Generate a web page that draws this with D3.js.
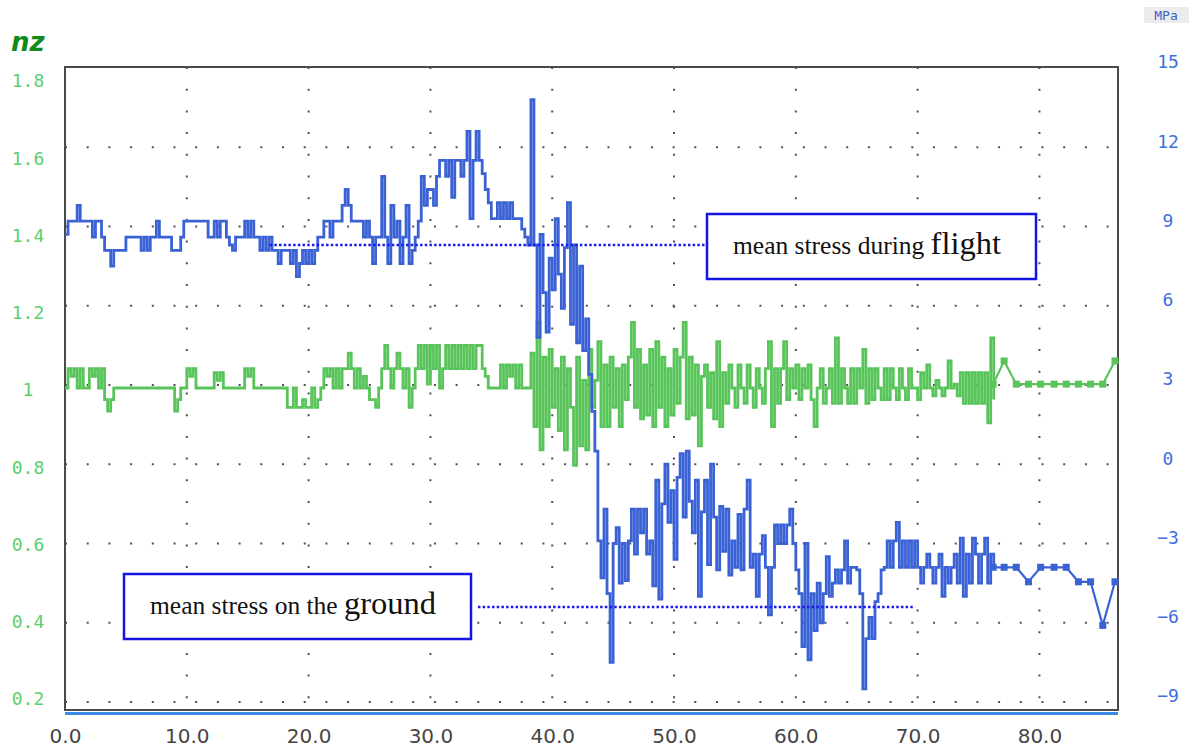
<!DOCTYPE html>
<html>
<head>
<meta charset="utf-8">
<script src="https://cdn.jsdelivr.net/npm/d3@7"></script>
<style>
  body { margin: 0; background: #fff; }
  svg { display: block; }
</style>
</head>
<body>
<svg id="chart" width="1195" height="749"></svg>
<script>
// sample step of the dense part (x units)
var dt = 0.25

// stress (MPa, right axis), one value per dt from x = 0
var stressDense = [
  8.7, 9.2, 9.2, 9.2, 9.8, 9.2, 9.2, 9.2, 9.2, 8.6,
  9.2, 9.2, 8.6, 8.1, 8.1, 7.5, 8.1, 8.1, 8.1, 8.1,
  8.6, 8.6, 8.6, 8.6, 8.6, 8.1, 8.6, 8.1, 8.6, 8.6,
  9.2, 8.6, 8.6, 8.6, 8.6, 8.1, 8.1, 8.1, 8.6, 9.2,
  9.2, 9.2, 9.2, 9.2, 9.2, 9.2, 9.2, 8.6, 8.6, 9.2,
  8.6, 9.2, 9.2, 8.6, 8.3, 8.1, 8.6, 8.6, 8.6, 9.2,
  8.6, 9.2, 8.6, 8.6, 8.1, 8.6, 8.1, 8.6, 8.1, 8.1,
  7.6, 8.1, 8.1, 8.1, 7.6, 8.1, 7.1, 7.6, 8.1, 7.6,
  8.1, 7.6, 8.1, 8.6, 8.6, 9.2, 9.2, 8.6, 9.2, 9.2,
  9.2, 9.8, 10.4, 9.8, 9.2, 9.2, 9.2, 9.2, 8.6, 9.2,
  8.6, 7.6, 8.6, 8.6, 10.9, 8.6, 7.6, 9.8, 8.6, 9.2,
  7.6, 8.6, 9.8, 7.6, 8.1, 8.6, 9.2, 10.9, 9.8, 10.4,
  10.4, 9.8, 10.9, 11.5, 11.5, 10.9, 11.5, 10.1, 11.5, 11.5,
  10.9, 11.5, 12.6, 9.3, 11.5, 12.6, 11.5, 11.0, 10.4, 9.9,
  9.3, 9.3, 9.9, 9.3, 9.9, 9.3, 9.9, 9.3, 9.3, 9.3,
  8.9, 8.6, 8.3, 13.8, 8.3, 4.8, 8.7, 6.5, 5.0, 7.8,
  6.6, 9.3, 7.2, 5.9, 8.2, 9.9, 5.3, 8.3, 4.6, 7.5,
  4.3, 5.5, 3.4, 2.0, 0.5, -2.9, -4.3, -1.7, -4.9, -7.5,
  -3.0, -2.4, -4.5, -3.0, -4.4, -2.9, -1.7, -3.4, -1.7, -2.6,
  -1.7, -3.4, -2.9, -4.6, -0.6, -5.1, -1.5, 0.0, -2.2, -1.0,
  -3.6, -0.5, 0.4, -2.0, 0.5, -1.4, -2.6, -0.6, -5.0, -1.8,
  -0.6, -3.8, 0.0, -2.0, -4.0, -1.6, -3.3, -1.7, -4.2, -2.9,
  -3.9, -1.9, -4.0, -1.7, -0.6, -3.9, -3.4, -5.0, -3.4, -2.7,
  -3.9, -5.7, -3.9, -2.3, -3.0, -2.3, -3.0, -2.3, -1.7, -3.0,
  -4.0, -4.9, -6.9, -3.0, -7.4, -4.9, -6.3, -4.5, -6.0, -4.9,
  -3.5, -5.0, -4.5, -4.0, -4.5, -4.0, -2.9, -4.5, -3.9, -3.9,
  -4.0, -4.9, -8.5, -6.6, -5.8, -6.6, -5.2, -4.9, -4.0, -3.9,
  -2.9, -3.9, -2.9, -2.2, -3.9, -2.9, -3.9, -2.9, -3.9, -2.9,
  -3.9, -4.5, -3.9, -3.4, -3.9, -4.5, -3.9, -3.4, -5.0, -3.9,
  -4.5, -3.9, -3.4, -4.5, -2.8, -5.0, -3.4, -4.5, -2.8, -3.4,
  -4.5, -3.4, -2.8, -4.5, -3.4, -3.9
]

// load factor nz (left axis), same sampling
var nzDense = [
  1.0, 1.05, 1.03, 1.05, 1.0, 1.05, 1.0, 1.0, 1.05, 1.03,
  1.05, 1.0, 1.05, 0.97, 0.94, 0.97, 1.0, 1.0, 1.0, 1.0,
  1.0, 1.0, 1.0, 1.0, 1.0, 1.0, 1.0, 1.0, 1.0, 1.0,
  1.0, 1.0, 1.0, 1.0, 1.0, 1.0, 0.94, 0.97, 1.0, 1.0,
  1.05, 1.03, 1.05, 1.0, 1.0, 1.0, 1.0, 1.0, 1.0, 1.04,
  1.02, 1.04, 1.0, 1.0, 1.0, 1.0, 1.0, 1.0, 1.0, 1.05,
  1.03, 1.05, 1.0, 1.0, 1.0, 1.0, 1.0, 1.0, 1.0, 1.0,
  1.0, 1.0, 1.0, 0.95, 0.95, 1.0, 0.95, 0.95, 0.97, 0.95,
  0.95, 1.0, 0.95, 0.97, 1.0, 1.05, 1.03, 1.05, 1.0, 1.05,
  1.0, 1.05, 1.05, 1.09, 1.05, 1.0, 1.05, 1.0, 1.03, 1.0,
  0.97, 0.97, 0.95, 1.0, 1.05, 1.11, 1.05, 1.0, 1.05, 1.09,
  1.05, 1.0, 1.05, 0.95, 1.0, 1.05, 1.11, 1.05, 1.11, 1.01,
  1.11, 1.05, 1.11, 1.0, 1.05, 1.11, 1.05, 1.11, 1.05, 1.11,
  1.05, 1.11, 1.05, 1.11, 1.05, 1.11, 1.11, 1.05, 1.03, 1.0,
  1.0, 1.0, 1.0, 1.06, 1.0, 1.06, 1.03, 1.06, 1.0, 1.06,
  1.0, 1.0, 1.0, 1.09, 0.9, 1.17, 0.84, 1.08, 0.9, 1.1,
  0.95, 1.05, 0.89, 1.08, 0.84, 1.05, 0.95, 0.8, 1.08, 0.85,
  1.02, 0.84, 1.1, 0.95, 1.02, 1.12, 0.9, 1.06, 0.9, 1.08,
  0.95, 1.05, 0.9, 1.06, 0.97, 1.08, 1.17, 0.95, 1.1, 0.92,
  1.06, 0.93, 1.1, 0.9, 1.12, 0.95, 1.08, 0.9, 1.05, 0.93,
  1.1, 0.96, 1.08, 1.17, 0.92, 1.08, 0.93, 1.06, 0.85, 1.03,
  1.06, 0.95, 1.04, 0.92, 1.12, 0.9, 1.04, 0.96, 1.06, 1.0,
  0.95, 1.06, 1.0, 0.96, 1.06, 1.0, 0.95, 1.05, 1.0, 0.96,
  1.05, 1.12, 0.9, 1.05, 0.96, 1.05, 1.12, 0.97, 1.05, 1.0,
  1.06, 0.97, 1.05, 1.0, 1.06, 0.97, 0.9, 1.0, 1.05, 0.96,
  1.0, 1.05, 0.96, 1.13, 0.96, 1.05, 1.0, 0.96, 1.05, 0.96,
  1.05, 1.0, 1.1, 0.96, 1.05, 0.97, 1.05, 1.0, 0.97, 1.05,
  0.97, 1.05, 1.0, 0.97, 1.05, 1.0, 0.97, 1.05, 1.0, 1.0,
  0.97, 1.04, 1.0, 1.06, 1.0, 0.98, 1.02, 1.0, 0.98, 1.0,
  1.07, 1.0, 1.01, 0.98, 1.04, 0.96, 1.04, 0.96, 1.04, 0.96,
  1.04, 0.96, 1.04, 0.91, 1.13, 0.97
]

// sparse tail with markers
var tailT = [76.2, 77.1, 78.1, 79.1, 80.1, 81.2, 82.2, 83.2, 84.2, 85.2, 86.2]
var stressTail = [-3.9, -3.9, -3.9, -4.45, -3.9, -3.9, -3.9, -4.45, -4.45, -6.1, -4.45]
var nzTail = [1.01, 1.07, 1.01, 1.01, 1.01, 1.01, 1.01, 1.01, 1.01, 1.01, 1.07]

// mean stress reference lines
var meanFlight = 8.3
var meanFlightRange = [16.8, 52.7]
var meanGround = -5.4
var meanGroundRange = [33.9, 69.6]

var xTicks = [0, 10, 20, 30, 40, 50, 60, 70, 80]
var nzTicks = [1.8, 1.6, 1.4, 1.2, 1.0, 0.8, 0.6, 0.4, 0.2]
var mpaTicks = [15, 12, 9, 6, 3, 0, -3, -6, -9]

var dims = { left: 65, top: 67, right: 1118, bottom: 710 }

var svg = d3.select("#chart")

var xScale = d3.scaleLinear().domain([0, 86.45]).range([dims.left, dims.right])
var yRight = d3.scaleLinear().domain([-9, 15]).range([702, 68])
var yLeft = d3.scaleLinear().domain([0.2, 1.8]).range([697, 79])

//grid dots
var grid = svg.append("g")
  .attr("stroke", "#505050")
  .attr("stroke-width", 2)
  .attr("stroke-dasharray", "2,19.7")

grid.selectAll("line.h")
  .data(mpaTicks.filter(d => d < 15))
  .enter().append("line")
  .attr("class", "h")
  .attr("x1", dims.left).attr("x2", dims.right)
  .attr("y1", d => yRight(d)).attr("y2", d => yRight(d))

grid.selectAll("line.v")
  .data(xTicks.filter(d => d > 0))
  .enter().append("line")
  .attr("class", "v")
  .attr("x1", d => xScale(d)).attr("x2", d => xScale(d))
  .attr("y1", dims.top).attr("y2", dims.bottom)

//frame
svg.append("rect")
  .attr("x", dims.left).attr("y", dims.top)
  .attr("width", dims.right - dims.left).attr("height", dims.bottom - dims.top)
  .attr("fill", "none").attr("stroke", "#4a4a4a").attr("stroke-width", 2)

svg.append("line")
  .attr("x1", dims.left).attr("x2", dims.right)
  .attr("y1", dims.bottom + 3.5).attr("y2", dims.bottom + 3.5)
  .attr("stroke", "#3a8ae6").attr("stroke-width", 3)

//series
var nzLine = d3.line()
  .x((d, i) => xScale(i * dt))
  .y(d => yLeft(d))
  .curve(d3.curveStepAfter)

var stressLine = d3.line()
  .x((d, i) => xScale(i * dt))
  .y(d => yRight(d))
  .curve(d3.curveStepAfter)

var green = "#58c45a"
var blue = "#3a62d4"

svg.append("path")
  .datum(nzDense)
  .attr("fill", "none").attr("stroke", green).attr("stroke-width", 2.8)
  .attr("d", nzLine)

svg.append("path")
  .datum(tailT.map((t, i) => [t, nzTail[i]]))
  .attr("fill", "none").attr("stroke", green).attr("stroke-width", 2.2)
  .attr("d", d3.line().x(d => xScale(d[0])).y(d => yLeft(d[1])))

svg.selectAll("rect.nzmark")
  .data(tailT.map((t, i) => [t, nzTail[i]]))
  .enter().append("rect")
  .attr("class", "nzmark")
  .attr("x", d => xScale(d[0]) - 3.5).attr("y", d => yLeft(d[1]) - 3.5)
  .attr("width", 7).attr("height", 7)
  .attr("fill", green)

svg.append("path")
  .datum(stressDense)
  .attr("fill", "none").attr("stroke", blue).attr("stroke-width", 2.8)
  .attr("d", stressLine)

svg.append("path")
  .datum(tailT.map((t, i) => [t, stressTail[i]]))
  .attr("fill", "none").attr("stroke", blue).attr("stroke-width", 2.2)
  .attr("d", d3.line().x(d => xScale(d[0])).y(d => yRight(d[1])))

svg.selectAll("rect.mpamark")
  .data(tailT.map((t, i) => [t, stressTail[i]]))
  .enter().append("rect")
  .attr("class", "mpamark")
  .attr("x", d => xScale(d[0]) - 3.5).attr("y", d => yRight(d[1]) - 3.5)
  .attr("width", 7).attr("height", 7)
  .attr("fill", blue)

//mean stress lines
var dotted = "#1a1aee"
svg.append("line")
  .attr("x1", xScale(meanFlightRange[0])).attr("x2", xScale(meanFlightRange[1]))
  .attr("y1", yRight(meanFlight)).attr("y2", yRight(meanFlight))
  .attr("stroke", dotted).attr("stroke-width", 2.5).attr("stroke-dasharray", "2.5,2.2")

svg.append("line")
  .attr("x1", xScale(meanGroundRange[0])).attr("x2", xScale(meanGroundRange[1]))
  .attr("y1", yRight(meanGround)).attr("y2", yRight(meanGround))
  .attr("stroke", dotted).attr("stroke-width", 2.5).attr("stroke-dasharray", "2.5,2.2")

//annotation boxes
function noteBox(x, y, w, h, small, big, tx, ty) {
  svg.append("rect")
    .attr("x", x).attr("y", y).attr("width", w).attr("height", h)
    .attr("fill", "#fff").attr("stroke", "#1414e6").attr("stroke-width", 2.5)
  var t = svg.append("text")
    .attr("x", tx).attr("y", ty)
    .style("font-family", "'Liberation Serif', 'Times New Roman', serif")
    .attr("fill", "#111")
  t.append("tspan").style("font-size", "25.5px").text(small)
  t.append("tspan").style("font-size", "32.5px").text(big)
}
noteBox(707, 214, 329, 65, "mean stress during ", "flight", 733, 254)
noteBox(124, 574, 347, 65, "mean stress on the ", "ground", 150, 614)

//axes
var xAxis = svg.append("g")
  .attr("transform", "translate(0," + dims.bottom + ")")
  .call(d3.axisBottom(xScale).tickValues(xTicks).tickFormat(d3.format(".1f")).tickSize(0))
xAxis.select(".domain").remove()
xAxis.selectAll("text")
  .attr("y", 33).attr("dy", null)
  .style("font-family", "'DejaVu Sans', sans-serif")
  .style("font-size", "20px")
  .attr("fill", "#454545")

var leftAxis = svg.append("g")
  .attr("transform", "translate(28,0)")
  .call(d3.axisLeft(yLeft).tickValues(nzTicks).tickFormat(d => d === 1 ? "1" : d.toFixed(1)).tickSize(0))
leftAxis.select(".domain").remove()
leftAxis.selectAll("text")
  .attr("x", 0).attr("y", 2)
  .style("text-anchor", "middle")
  .style("font-family", "'DejaVu Sans Mono', monospace")
  .style("font-size", "18px")
  .attr("fill", "#5cd06a")

var rightAxis = svg.append("g")
  .attr("transform", "translate(1168,0)")
  .call(d3.axisRight(yRight).tickValues(mpaTicks).tickFormat(d => d < 0 ? "\u2212" + Math.abs(d) : "" + d).tickSize(0))
rightAxis.select(".domain").remove()
rightAxis.selectAll("text")
  .attr("x", 0).attr("y", -6)
  .style("text-anchor", "middle")
  .style("font-family", "'DejaVu Sans Mono', monospace")
  .style("font-size", "18px")
  .attr("fill", "#3d6fe0")

//axis titles
svg.append("text")
  .attr("x", 11).attr("y", 51)
  .style("font-family", "'DejaVu Sans', sans-serif")
  .style("font-size", "26px")
  .style("font-weight", "bold")
  .style("font-style", "italic")
  .attr("fill", "#108a18")
  .text("nz")

svg.append("rect")
  .attr("x", 1144).attr("y", 7).attr("width", 45).attr("height", 16)
  .attr("fill", "#ececec")
svg.append("text")
  .attr("x", 1166).attr("y", 20)
  .style("text-anchor", "middle")
  .style("font-family", "'DejaVu Sans Mono', monospace")
  .style("font-size", "13px")
  .attr("fill", "#3d62c8")
  .text("MPa")
</script>
</body>
</html>
